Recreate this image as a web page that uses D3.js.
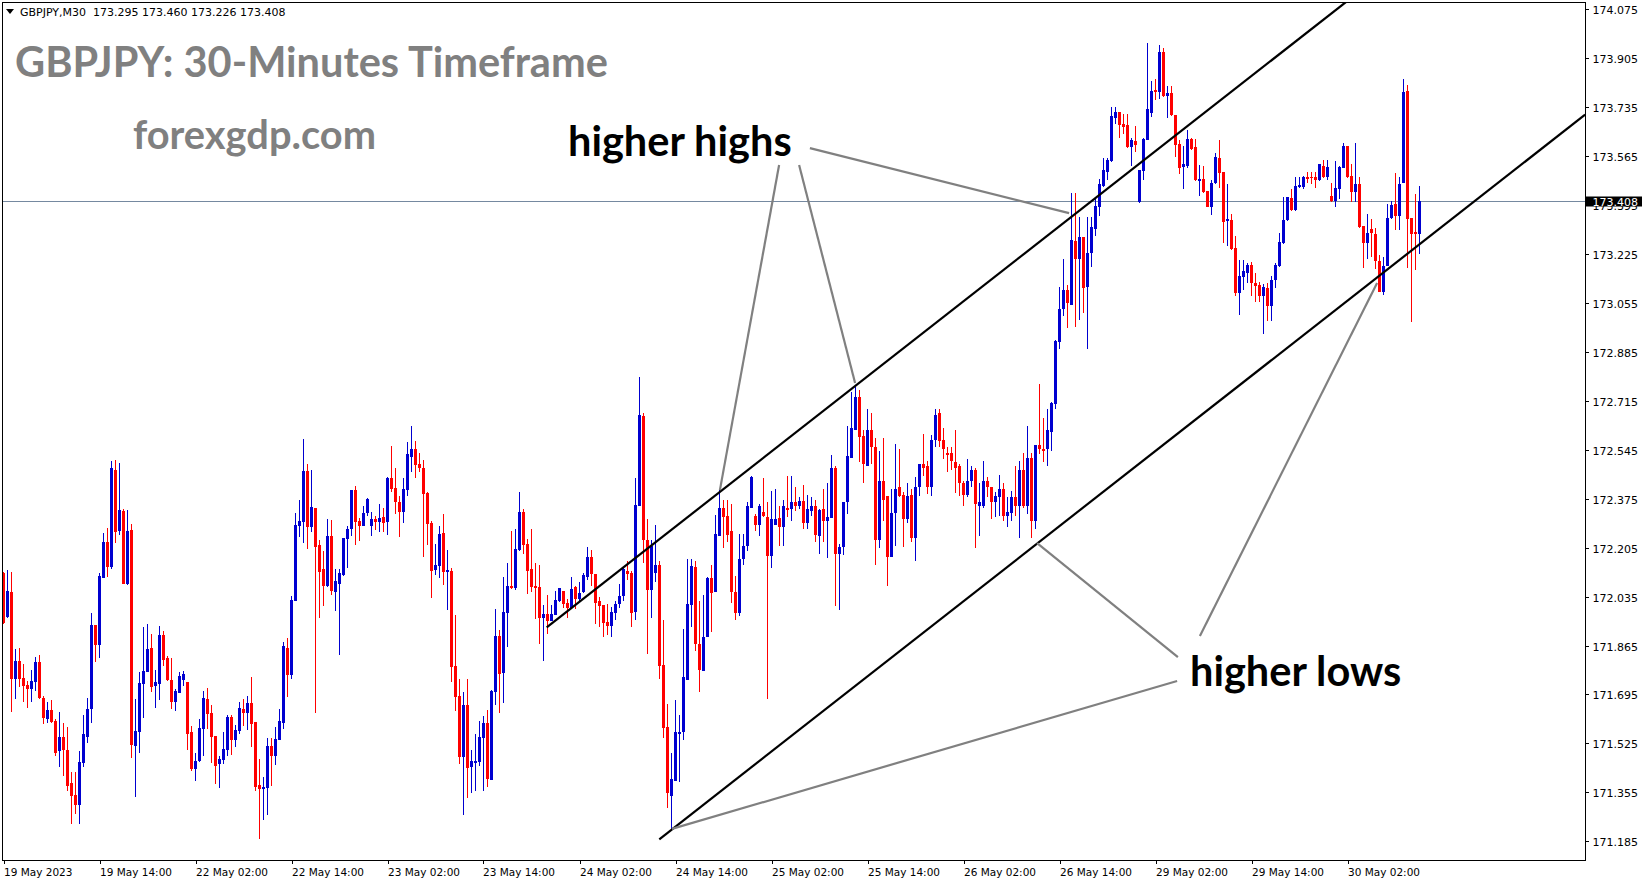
<!DOCTYPE html>
<html><head><meta charset="utf-8">
<script src="https://cdn.jsdelivr.net/npm/d3@7/dist/d3.min.js"></script>
<style>html,body{margin:0;padding:0;background:#fff;overflow:hidden}</style>
</head><body>
<svg id="chart" width="1649" height="884"></svg>
<script>
// ---- DATA (GBPJPY M30, one value per candle, left to right) ----
const opens=[
172.116,171.965,172.051,171.748,171.811,171.752,171.728,171.715,171.737,171.808,
171.684,171.611,171.641,171.604,171.497,171.549,171.503,171.389,171.347,171.312,
171.458,171.549,171.646,171.938,171.868,172.101,172.226,172.139,172.476,172.264,
172.334,172.080,172.268,171.517,171.566,171.733,171.774,171.858,171.726,171.733,
171.903,171.820,171.747,171.670,171.701,171.747,171.740,171.566,171.437,171.465,
171.576,171.681,171.632,171.552,171.455,171.469,171.503,171.618,171.538,171.569,
171.646,171.632,171.667,171.601,171.382,171.365,171.371,171.516,171.482,171.537,
171.597,171.858,171.764,172.021,172.280,172.294,172.471,172.278,172.343,172.214,
172.131,172.073,172.245,172.052,172.080,172.111,172.236,172.270,172.405,172.298,
172.280,172.325,172.280,172.304,172.294,172.311,172.294,172.447,172.412,172.363,
172.329,172.405,172.521,172.548,172.495,172.482,172.395,172.291,172.128,172.142,
172.256,172.122,172.125,171.795,171.691,171.479,171.660,171.444,171.458,171.462,
171.545,171.597,171.399,171.705,171.899,171.771,171.979,172.073,172.066,172.197,
172.329,172.218,172.132,172.073,172.069,171.962,171.976,171.951,171.972,172.021,
172.056,172.014,171.997,172.070,172.025,172.052,172.104,172.174,172.115,172.018,
172.007,171.948,171.934,171.979,172.011,172.038,172.125,172.118,171.983,172.351,
172.664,172.233,172.059,172.118,172.146,171.799,171.583,171.344,171.396,171.559,
171.563,171.747,172.007,172.139,171.872,171.778,171.893,172.101,172.052,172.247,
172.344,172.316,172.264,172.052,171.979,172.164,172.212,172.344,172.316,172.282,
172.330,172.313,172.177,172.285,172.309,172.278,172.344,172.341,172.362,172.351,
172.368,172.289,172.334,172.351,172.247,172.341,172.299,172.309,172.483,172.184,
172.209,172.364,172.518,172.615,172.730,172.594,172.490,172.612,172.556,172.230,
172.435,172.386,172.174,172.327,172.414,172.389,172.303,172.389,172.240,172.414,
172.494,172.490,172.417,172.580,172.671,172.580,172.535,172.535,172.501,172.487,
172.428,172.389,172.435,172.473,172.351,172.351,172.438,172.414,172.365,172.382,
172.410,172.316,172.327,172.382,172.351,172.476,172.351,172.518,172.299,172.563,
172.549,172.546,172.608,172.705,172.921,173.035,173.101,173.049,173.271,173.209,
173.285,173.112,173.230,173.313,173.389,173.462,173.511,173.549,173.699,173.719,
173.678,173.674,173.598,173.619,173.407,173.514,173.622,173.716,173.796,173.789,
173.928,173.775,173.785,173.709,173.608,173.528,173.532,173.626,173.598,173.480,
173.487,173.445,173.389,173.473,173.560,173.511,173.341,173.344,173.247,173.091,
173.146,173.160,173.188,173.125,173.118,173.080,173.108,173.046,173.136,173.184,
173.264,173.344,173.421,173.379,173.459,173.459,173.494,173.494,173.494,173.483,
173.532,173.494,173.428,173.410,173.452,173.525,173.601,173.497,173.442,173.469,
173.323,173.264,173.313,173.296,173.202,173.094,173.184,173.351,173.400,173.358,
173.473,173.792,173.351,173.303,173.295];
const highs=[
172.122,172.127,172.121,171.853,171.857,171.801,171.743,171.780,171.825,171.832,
171.691,171.670,171.677,171.611,171.635,171.596,171.583,171.427,171.427,171.497,
171.622,171.684,171.979,171.938,172.118,172.257,172.275,172.507,172.511,172.500,
172.341,172.337,172.288,171.681,171.774,171.931,171.941,171.906,171.781,171.934,
171.917,171.830,171.820,171.715,171.774,171.778,171.740,171.587,171.493,171.611,
171.708,171.719,171.660,171.552,171.483,171.563,171.622,171.625,171.590,171.670,
171.681,171.688,171.754,171.601,171.472,171.410,171.545,171.543,171.583,171.644,
171.878,171.891,172.037,172.325,172.370,172.582,172.495,172.475,172.343,172.232,
172.193,172.304,172.301,172.131,172.131,172.238,172.280,172.405,172.419,172.308,
172.350,172.377,172.329,172.315,172.357,172.343,172.450,172.558,172.482,172.384,
172.447,172.572,172.627,172.575,172.534,172.509,172.398,172.298,172.218,172.280,
172.322,172.197,172.135,171.972,171.750,171.705,171.750,171.503,171.559,171.604,
171.621,171.642,171.712,171.993,171.920,172.104,172.153,172.263,172.270,172.398,
172.339,172.235,172.270,172.153,172.146,172.007,172.042,172.007,172.056,172.066,
172.056,172.025,172.102,172.073,172.084,172.118,172.209,172.198,172.115,172.035,
172.007,172.011,172.000,172.018,172.080,172.139,172.160,172.125,172.448,172.799,
172.671,172.306,172.233,172.285,172.157,171.952,171.663,171.490,171.677,171.625,
171.924,172.167,172.164,172.160,172.018,172.042,172.104,172.146,172.320,172.407,
172.372,172.372,172.358,172.108,172.254,172.254,172.365,172.455,172.323,172.358,
172.448,172.365,172.403,172.407,172.348,172.372,172.455,172.455,172.414,172.382,
172.424,172.389,172.382,172.372,172.341,172.410,172.431,172.528,172.490,172.216,
172.364,172.626,172.744,172.764,172.751,172.612,172.685,172.674,172.587,172.539,
172.587,172.386,172.407,172.566,172.549,172.400,172.428,172.410,172.452,172.497,
172.601,172.507,172.598,172.688,172.685,172.619,172.556,172.556,172.612,172.494,
172.435,172.514,172.487,172.480,172.428,172.507,172.452,172.417,172.400,172.459,
172.431,172.382,172.403,172.487,172.507,172.535,172.629,172.535,172.563,172.775,
172.657,172.685,172.712,172.928,173.112,173.209,173.119,173.437,173.437,173.355,
173.285,173.355,173.355,173.424,173.487,173.560,173.560,173.737,173.737,173.719,
173.712,173.712,173.629,173.671,173.518,173.629,173.959,173.827,173.834,173.952,
173.942,173.810,173.810,173.709,173.622,173.601,173.657,173.629,173.626,173.535,
173.532,173.445,173.483,173.577,173.622,173.511,173.469,173.365,173.289,173.205,
173.205,173.195,173.198,173.160,173.129,173.122,173.125,173.150,173.195,173.299,
173.424,173.424,173.452,173.494,173.494,173.497,173.511,173.511,173.511,173.539,
173.553,173.553,173.473,173.549,173.532,173.612,173.601,173.539,173.612,173.494,
173.323,173.365,173.348,173.316,173.223,173.216,173.400,173.410,173.508,173.494,
173.834,173.813,173.351,173.435,173.460];
const lows=[
171.939,171.962,171.635,171.681,171.722,171.670,171.649,171.670,171.708,171.681,
171.594,171.597,171.597,171.483,171.444,171.413,171.358,171.246,171.281,171.246,
171.444,171.528,171.597,171.809,171.823,172.101,172.104,172.132,172.222,172.250,
172.080,172.077,171.476,171.340,171.490,171.615,171.774,171.705,171.649,171.677,
171.795,171.743,171.646,171.639,171.701,171.726,171.503,171.430,171.396,171.462,
171.483,171.576,171.458,171.385,171.371,171.455,171.483,171.486,171.514,171.556,
171.587,171.573,171.514,171.361,171.194,171.260,171.278,171.378,171.450,171.537,
171.575,171.687,171.750,172.021,172.242,172.221,172.201,172.259,171.632,171.962,
172.003,172.069,172.042,171.986,171.833,172.108,172.135,172.245,172.215,172.229,
172.280,172.315,172.245,172.266,172.259,172.259,172.249,172.398,172.322,172.242,
172.291,172.384,172.468,172.447,172.468,172.172,172.214,172.031,172.111,172.101,
172.076,171.990,171.739,171.639,171.455,171.277,171.337,171.354,171.361,171.448,
171.361,171.375,171.399,171.660,171.632,171.667,171.861,172.062,172.059,172.193,
172.184,172.045,172.052,171.958,171.871,171.812,171.906,171.951,171.972,172.017,
171.997,171.959,171.993,171.993,172.021,172.049,172.091,172.073,171.941,171.931,
171.896,171.900,171.893,171.952,171.997,172.021,172.091,171.931,171.952,172.348,
172.150,171.837,171.962,172.084,171.750,171.545,171.302,171.226,171.396,171.392,
171.538,171.747,171.931,171.847,171.702,171.775,171.893,171.913,172.052,172.247,
172.205,172.226,172.014,171.952,171.966,172.146,172.195,172.344,172.264,172.247,
172.313,171.681,172.136,172.285,172.212,172.212,172.313,172.296,172.334,172.341,
172.271,172.271,172.316,172.223,172.184,172.223,172.170,172.309,172.004,171.990,
172.181,172.323,172.518,172.615,172.501,172.431,172.490,172.494,172.146,172.205,
172.296,172.073,172.171,172.212,172.382,172.209,172.289,172.223,172.160,172.386,
172.455,172.393,172.386,172.556,172.556,172.514,172.469,172.476,172.396,172.386,
172.348,172.382,172.417,172.205,172.247,172.344,172.382,172.306,172.313,172.316,
172.299,172.278,172.296,172.316,172.240,172.344,172.323,172.237,172.271,172.532,
172.501,172.490,172.542,172.688,172.896,173.008,172.969,173.049,172.970,172.995,
173.019,172.896,173.181,173.289,173.358,173.459,173.483,173.546,173.678,173.629,
173.643,173.594,173.532,173.580,173.403,173.483,173.622,173.702,173.761,173.765,
173.771,173.699,173.705,173.563,173.504,173.452,173.525,173.587,173.480,173.428,
173.438,173.389,173.362,173.469,173.455,173.264,173.254,173.240,173.080,173.014,
173.101,173.125,173.080,173.059,173.059,172.948,172.993,172.993,173.108,173.181,
173.261,173.341,173.376,173.376,173.455,173.452,173.473,173.469,173.455,173.480,
173.490,173.483,173.407,173.389,173.417,173.525,173.490,173.407,173.407,173.316,
173.178,173.209,173.216,173.174,173.094,173.084,173.184,173.348,173.310,173.310,
173.473,173.178,172.990,173.171,173.226];
const closes=[
171.942,172.055,171.748,171.811,171.750,171.725,171.715,171.742,171.808,171.684,
171.615,171.641,171.601,171.493,171.549,171.503,171.378,171.344,171.312,171.462,
171.556,171.646,171.938,171.868,172.108,172.226,172.139,172.483,172.261,172.337,
172.080,172.264,171.521,171.569,171.736,171.778,171.854,171.722,171.740,171.903,
171.816,171.747,171.670,171.708,171.760,171.767,171.556,171.437,171.465,171.580,
171.684,171.628,171.549,171.448,171.472,171.507,171.618,171.538,171.573,171.649,
171.632,171.667,171.594,171.375,171.365,171.375,171.517,171.482,171.540,171.603,
171.863,171.764,172.023,172.284,172.298,172.471,172.278,172.346,172.208,172.122,
172.073,172.245,172.056,172.089,172.117,172.238,172.270,172.405,172.294,172.280,
172.325,172.374,172.304,172.294,172.308,172.291,172.447,172.409,172.363,172.329,
172.409,172.530,172.548,172.492,172.482,172.391,172.287,172.125,172.145,172.252,
172.122,172.128,171.792,171.687,171.479,171.660,171.441,171.465,171.465,171.548,
171.597,171.403,171.708,171.899,171.767,171.983,172.073,172.066,172.200,172.329,
172.215,172.125,172.069,172.066,171.962,171.976,171.951,171.976,172.024,172.066,
172.011,171.997,172.063,172.028,172.049,172.111,172.174,172.115,172.014,172.004,
171.945,171.934,171.983,172.011,172.038,172.132,172.115,171.979,172.354,172.667,
172.230,172.059,172.212,172.146,171.795,171.580,171.354,171.403,171.563,171.566,
171.754,172.011,172.143,171.872,171.781,171.896,172.098,172.049,172.254,172.344,
172.313,172.250,172.052,171.979,172.167,172.212,172.348,172.452,172.282,172.351,
172.316,172.177,172.306,172.306,172.278,172.351,172.337,172.362,172.351,172.368,
172.289,172.341,172.351,172.250,172.337,172.299,172.313,172.483,172.184,172.209,
172.364,172.525,172.619,172.730,172.591,172.494,172.612,172.556,172.230,172.438,
172.372,172.174,172.327,172.410,172.386,172.303,172.386,172.240,172.417,172.494,
172.483,172.414,172.580,172.667,172.577,172.546,172.528,172.507,172.480,172.428,
172.389,172.435,172.476,172.355,172.365,172.438,172.414,172.365,172.386,172.410,
172.316,172.330,172.382,172.351,172.473,172.348,172.518,172.299,172.563,172.546,
172.542,172.615,172.709,172.924,173.035,173.101,173.056,173.275,173.209,173.285,
173.108,173.230,173.320,173.393,173.469,173.518,173.553,173.705,173.719,173.674,
173.667,173.598,173.622,173.605,173.518,173.626,173.730,173.792,173.789,173.928,
173.775,173.785,173.709,173.605,173.525,173.539,173.626,173.591,173.483,173.487,
173.442,173.389,173.473,173.563,173.508,173.337,173.348,173.244,173.091,173.150,
173.167,173.188,173.125,173.115,173.080,173.112,173.046,173.136,173.188,173.268,
173.344,173.424,173.379,173.462,173.466,173.494,173.487,173.490,173.483,173.539,
173.494,173.528,173.410,173.455,173.528,173.601,173.494,173.442,173.469,173.320,
173.264,173.299,173.299,173.202,173.094,173.184,173.351,173.396,173.358,173.469,
173.789,173.348,173.296,173.296,173.408];

const priceTicks=[174.075,173.905,173.735,173.565,173.395,173.225,173.055,172.885,172.715,172.545,172.375,172.205,172.035,171.865,171.695,171.525,171.355,171.185];
const dateTickIdx=[0,24,48,72,96,120,144,168,192,216,240,264,288,312,336];
const dateLabels=["19 May 2023","19 May 14:00","22 May 02:00","22 May 14:00","23 May 02:00","23 May 14:00","24 May 02:00","24 May 14:00","25 May 02:00","25 May 14:00","26 May 02:00","26 May 14:00","29 May 02:00","29 May 14:00","30 May 02:00"];
const headerText="GBPJPY,M30  173.295 173.460 173.226 173.408";
const lastPrice=173.408;

// channel lines: [startIndex, startPrice, endIndex, endPrice]
const channelUpper=[135.8,171.928,335.6,174.100];
const channelLower=[163.95,171.192,395.4,173.709];
// pointer lines from the labels (index, price pairs)
const highPointers=[[193.9,173.534,179.1,172.405],[198.9,173.534,212.9,172.777],[201.6,173.593,266.4,173.367]];
const lowPointers=[[293.4,171.742,167.1,171.228],[293.6,171.825,258.4,172.221],[299.1,171.898,343.4,173.124]];

// ---- DRAWING ----
const svg=d3.select("#chart");
const plotL=2.5, plotT=2.5, plotR=1585.5, plotB=860.5;
const x=d3.scaleLinear().domain([-0.875,395.375]).range([0,1585]);
const y=d3.scaleLinear().domain([171.185,174.075]).range([841.3,9.3]);

svg.append("rect").attr("width",1649).attr("height",884).attr("fill","#fff");
svg.append("defs").append("clipPath").attr("id","clip").append("rect")
  .attr("x",plotL).attr("y",plotT).attr("width",plotR-plotL).attr("height",plotB-plotT);

const g=svg.append("g").attr("clip-path","url(#clip)");

// current price line
g.append("line").attr("x1",plotL).attr("x2",plotR)
  .attr("y1",Math.round(y(lastPrice))+0.5).attr("y2",Math.round(y(lastPrice))+0.5)
  .attr("stroke","#7589a0").attr("stroke-width",1);

const candles=d3.range(opens.length).map(i=>({i,o:opens[i],h:highs[i],l:lows[i],c:closes[i]}));
const col=d=>d.c>=d.o?"#0000d0":"#ff0000";
const cg=g.append("g").attr("shape-rendering","crispEdges");
cg.selectAll("rect.wick").data(candles).join("rect").attr("class","wick")
  .attr("x",d=>x(d.i)-0.5).attr("width",1)
  .attr("y",d=>y(d.h)).attr("height",d=>Math.max(1,y(d.l)-y(d.h)))
  .attr("fill",col);
cg.selectAll("rect.body").data(candles).join("rect").attr("class","body")
  .attr("x",d=>x(d.i)-1.5).attr("width",3)
  .attr("y",d=>y(Math.max(d.o,d.c))).attr("height",d=>Math.max(1,Math.abs(y(d.o)-y(d.c))))
  .attr("fill",col);

// channel lines
[channelUpper,channelLower].forEach(s=>{
  g.append("line").attr("x1",x(s[0])).attr("y1",y(s[1])).attr("x2",x(s[2])).attr("y2",y(s[3]))
   .attr("stroke","#000").attr("stroke-width",2.2);
});
// pointer lines
highPointers.concat(lowPointers).forEach(s=>{
  g.append("line").attr("x1",x(s[0])).attr("y1",y(s[1])).attr("x2",x(s[2])).attr("y2",y(s[3]))
   .attr("stroke","#808080").attr("stroke-width",2.2);
});

// frame
svg.append("rect").attr("x",plotL).attr("y",plotT).attr("width",plotR-plotL-0.5).attr("height",plotB-plotT)
  .attr("fill","none").attr("stroke","#000").attr("stroke-width",1).attr("shape-rendering","crispEdges");

// price axis
const ax=svg.append("g").attr("font-family","DejaVu Sans, Tahoma, sans-serif").attr("font-size","11px");
priceTicks.forEach(p=>{
  const yy=Math.round(y(p))+0.5;
  ax.append("line").attr("x1",1585).attr("x2",1589).attr("y1",yy).attr("y2",yy).attr("stroke","#000").attr("shape-rendering","crispEdges");
  ax.append("text").attr("x",1592.5).attr("y",yy+4).attr("fill","#000").text(p.toFixed(3));
});
const ly=Math.round(y(lastPrice));
ax.append("rect").attr("x",1586).attr("y",ly-4.5).attr("width",56).attr("height",10).attr("fill","#000");
ax.append("text").attr("x",1592.5).attr("y",ly+4.5).attr("fill","#fff").text(lastPrice.toFixed(3));

// time axis
const tx=svg.append("g").attr("font-family","DejaVu Sans, Tahoma, sans-serif").attr("font-size","10.5px");
dateTickIdx.forEach((idx,k)=>{
  const xx=Math.round(x(idx))+0.5;
  tx.append("line").attr("x1",xx).attr("x2",xx).attr("y1",860).attr("y2",864).attr("stroke","#000").attr("shape-rendering","crispEdges");
  tx.append("text").attr("x",xx-0.5).attr("y",876).attr("fill","#000").text(dateLabels[k]);
});

// header
svg.append("path").attr("d","M6,9 L14,9 L10,14 Z").attr("fill","#000");
svg.append("text").attr("x",20).attr("y",16).attr("font-family","DejaVu Sans, Tahoma, sans-serif")
  .attr("font-size","11px").attr("xml:space","preserve").style("white-space","pre").attr("fill","#000").text(headerText);

// annotation texts
const big=svg.append("g").attr("font-family","Lato, 'Open Sans', sans-serif").attr("font-weight","bold");
big.append("text").attr("x",15).attr("y",77).attr("font-size","41.5px").attr("fill","#808080").text("GBPJPY: 30-Minutes Timeframe");
big.append("text").attr("x",133).attr("y",149).attr("font-size","39.8px").attr("fill","#808080").text("forexgdp.com");
big.append("text").attr("x",568).attr("y",156).attr("font-size","41.5px").attr("fill","#000").text("higher highs");
big.append("text").attr("x",1190).attr("y",686).attr("font-size","41.5px").attr("fill","#000").text("higher lows");
</script>
</body></html>
